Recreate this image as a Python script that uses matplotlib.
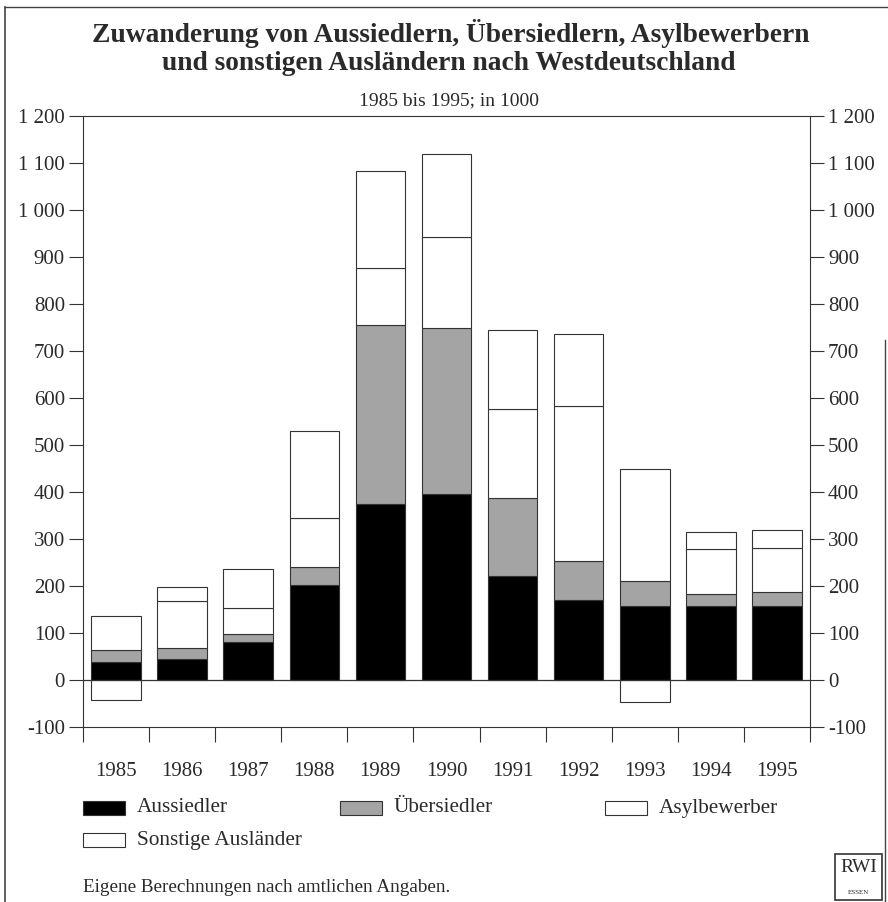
import matplotlib
matplotlib.use("Agg")
import matplotlib.pyplot as plt
from matplotlib.patches import Rectangle
from matplotlib.lines import Line2D
import numpy as np

plt.rcParams['font.family'] = ['Liberation Serif', 'DejaVu Serif']

years = ["1985", "1986", "1987", "1988", "1989", "1990",
         "1991", "1992", "1993", "1994", "1995"]
# in 1000
aussiedler = [38, 44, 80, 202, 375, 395, 222, 170, 158, 158, 158]
uebersiedler = [26, 25, 17, 39, 380, 353, 166, 83, 52, 25, 29]
asylbewerber = [72, 99, 57, 103, 121, 194, 189, 331, 238, 95, 94]
sonstige = [-42, 30, 83, 185, 208, 177, 167, 153, -46, 36, 38]

series_names = ["Aussiedler", "Übersiedler", "Asylbewerber", "Sonstige Ausländer"]
series_colors = ["black", "#a4a4a4", "white", "white"]
yticks = [-100, 0, 100, 200, 300, 400, 500, 600, 700, 800, 900,
          1000, 1100, 1200]

W, H = 888, 902
txt = "#2a2a2a"
fig = plt.figure(figsize=(W / 100, H / 100), dpi=100)
ax = fig.add_axes([83 / W, 1 - 727 / H, (810 - 83) / W, (727 - 116) / H])

x = np.arange(len(years))
bw = 0.75
edge = "#333333"
a = np.array(aussiedler)
u = np.array(uebersiedler)
s = np.array(asylbewerber)
o = np.array(sonstige)

ax.bar(x, a, bw, color=series_colors[0], edgecolor=edge, lw=0.8, zorder=2)
ax.bar(x, u, bw, bottom=a, color=series_colors[1], edgecolor=edge, lw=0.8, zorder=2)
ax.bar(x, s, bw, bottom=a + u, color=series_colors[2], edgecolor=edge, lw=0.8, zorder=2)
# sonstige: stacked on top if positive, below zero if negative
bottom_o = np.where(o >= 0, a + u + s, 0)
ax.bar(x, o, bw, bottom=bottom_o, color=series_colors[3], edgecolor=edge, lw=0.8, zorder=2)

ax.axhline(0, color=edge, lw=0.9, zorder=3)

ax.set_xlim(-0.5, len(years) - 0.5)
ax.set_ylim(-100, 1200)

def fmt(v):
    return f"{v:,}".replace(",", " ")

ax.set_yticks(yticks)
ax.set_yticklabels([fmt(v) for v in yticks])
ax.tick_params(axis="y", direction="out", length=10, width=0.8, color=edge,
               labelsize=15, pad=3, left=True, right=True,
               labelleft=True, labelright=True, labelcolor=txt)

ax.set_xticks(np.arange(-0.5, len(years), 1.0))
ax.set_xticklabels([])
ax.set_xticks(x, minor=True)
ax.set_xticklabels(years, minor=True)
ax.tick_params(axis="x", which="major", direction="out", length=11,
               width=0.8, color=edge)
ax.tick_params(axis="x", which="minor", length=0, pad=25, labelsize=15,
               labelcolor=txt)

for sp in ax.spines.values():
    sp.set_color(edge)
    sp.set_linewidth(0.8)

# titles
fig.text(451 / W, 1 - 34 / H, "Zuwanderung von Aussiedlern, Übersiedlern, Asylbewerbern",
         ha="center", va="center", fontsize=19.8, fontweight="bold", color=txt)
fig.text(449 / W, 1 - 63 / H, "und sonstigen Ausländern nach Westdeutschland",
         ha="center", va="center", fontsize=19.8, fontweight="bold", color=txt)
fig.text(449 / W, 1 - 101 / H, "1985 bis 1995; in 1000",
         ha="center", va="center", fontsize=14, color=txt)

# legend
leg_pos = [(83, 808), (340, 808), (605, 808), (83, 840)]
for (lx, ly), name, col in zip(leg_pos, series_names, series_colors):
    fig.patches.append(Rectangle((lx / W, 1 - (ly + 7) / H), 42 / W, 14 / H,
                                 transform=fig.transFigure, facecolor=col,
                                 edgecolor=edge, lw=0.8))
    fig.text((lx + 54) / W, 1 - ly / H, name, ha="left", va="center",
             fontsize=15.3, color=txt)

fig.text(83 / W, 1 - 887 / H, "Eigene Berechnungen nach amtlichen Angaben.",
         ha="left", va="center", fontsize=13.8, color=txt)

# RWI logo box
fig.patches.append(Rectangle((835 / W, 1 - 900 / H), 47 / W, 46 / H,
                             transform=fig.transFigure, facecolor="white",
                             edgecolor="#333333", lw=1.2))
fig.text(858.5 / W, 1 - 868 / H, "RWI", ha="center", va="center",
         fontsize=14, color=txt)
fig.text(858.5 / W, 1 - 892 / H, "ESSEN", ha="center", va="center",
         fontsize=5, color=txt)

# outer frame of the scanned page
fig.lines.append(Line2D([5 / W, 5 / W], [0, 1 - 7 / H], transform=fig.transFigure,
                        color="#444444", lw=1.2))
fig.lines.append(Line2D([5 / W, 1], [1 - 7 / H, 1 - 7 / H], transform=fig.transFigure,
                        color="#444444", lw=1.0))
fig.lines.append(Line2D([885 / W, 885 / W], [0, 1 - 340 / H], transform=fig.transFigure,
                        color="#444444", lw=1.0))

fig.savefig("out.png", dpi=100, facecolor="white")
